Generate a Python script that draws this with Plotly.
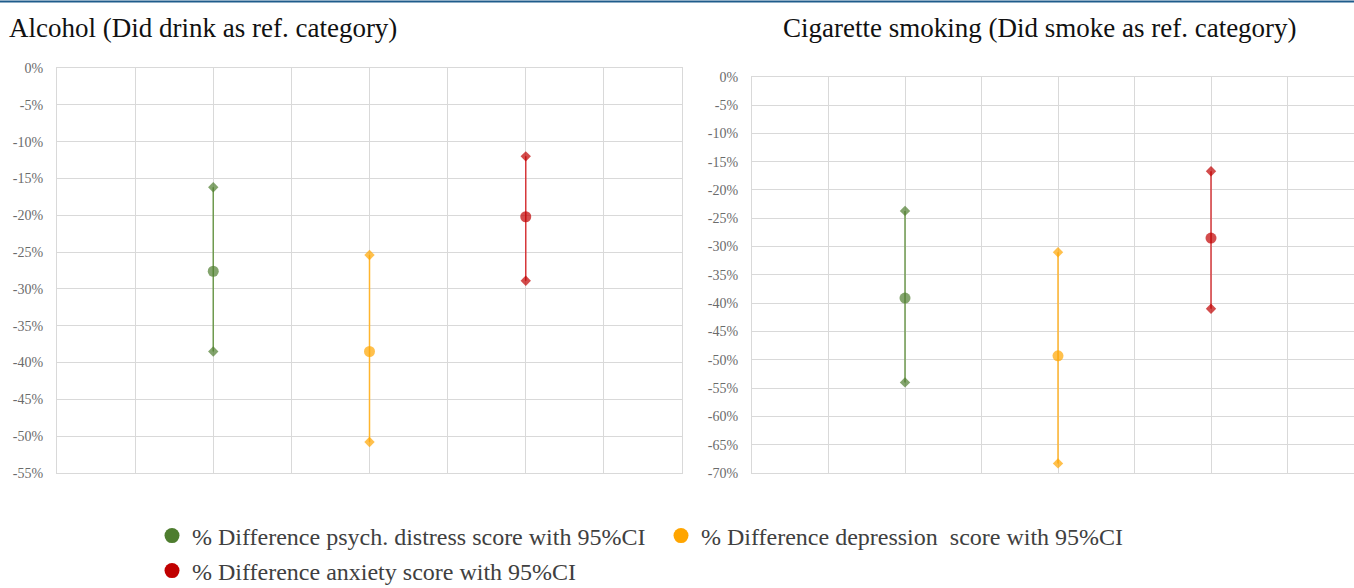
import plotly.graph_objects as go

W, H = 1354, 600  # page shows the top 588 px; extra room keeps the last legend row unclipped

# ---------------- data ----------------
measures = ["psych. distress", "depression", "anxiety"]
legend_names = [
    "% Difference psych. distress score with 95%CI",
    "% Difference depression  score with 95%CI",
    "% Difference anxiety score with 95%CI",
]
x_slot = [2, 4, 6]  # position of each measure on the x axis (0..8 grid)

alc_point = [-27.6, -38.5, -20.2]
alc_upper = [-16.2, -25.4, -12.0]
alc_lower = [-38.5, -50.8, -28.9]

cig_point = [-39.1, -49.3, -28.5]
cig_upper = [-23.7, -31.0, -16.7]
cig_lower = [-54.0, -68.3, -41.0]

alc_ticks = list(range(-55, 1, 5))
cig_ticks = list(range(-70, 1, 5))

colors = ["#4E7D2F", "#FFA500", "#C00000"]
line_colors = ["#6f9a4f", "#FFB52E", "#D6383B"]

title_left = "Alcohol (Did drink as ref. category)"
title_right = "Cigarette smoking (Did smoke as ref. category)"

SERIF = "Times New Roman, Liberation Serif, serif"

fig = go.Figure()


def add_panel(point, upper, lower, xa, ya):
    for i in range(len(measures)):
        fig.add_trace(go.Scatter(
            x=[x_slot[i]] * 3,
            y=[upper[i], point[i], lower[i]],
            mode="lines+markers",
            line=dict(color=line_colors[i], width=1.5),
            marker=dict(color=colors[i], symbol=["diamond", "circle", "diamond"],
                        size=[8, 11, 8], line=dict(width=0)),
            showlegend=False, hoverinfo="y",
            xaxis=xa, yaxis=ya,
        ))


add_panel(alc_point, alc_upper, alc_lower, "x", "y")
add_panel(cig_point, cig_upper, cig_lower, "x2", "y2")

# legend-only traces
for i in range(3):
    fig.add_trace(go.Scatter(
        x=[None], y=[None], mode="markers",
        marker=dict(color=colors[i], symbol="circle", size=15),
        name=legend_names[i], showlegend=True,
        legend="legend" if i < 2 else "legend2",
    ))

grid = "#d9d9d9"
tickfont = dict(family=SERIF, size=14, color="#6b6b6b")

xcommon = dict(showgrid=True, gridcolor=grid, gridwidth=1, dtick=1, tick0=0,
               showticklabels=False, zeroline=False, ticks="",
               showline=True, linecolor=grid, linewidth=1, mirror=True)
ycommon = dict(showgrid=True, gridcolor=grid, gridwidth=1,
               tickfont=tickfont, zeroline=False, ticks="",
               showline=True, linecolor=grid, linewidth=1, mirror=True,
               ticklabelstandoff=10)

legend_font = dict(family=SERIF, size=24, color="#404040")

fig.update_layout(
    width=W, height=H,
    margin=dict(l=0, r=0, t=0, b=0, autoexpand=False),
    paper_bgcolor="white", plot_bgcolor="white",
    xaxis=dict(domain=[57 / W, 682 / W], range=[0, 8], **xcommon),
    yaxis=dict(domain=[1 - 473 / H, 1 - 68 / H], range=[-55, 0],
               tickvals=alc_ticks, ticktext=[f"{v}%" for v in alc_ticks], **ycommon),
    xaxis2=dict(domain=[752 / W, 1.0], range=[0, (W - 752) / 76.5], anchor="y2", **xcommon),
    yaxis2=dict(domain=[1 - 473 / H, 1 - 76.7 / H], range=[-70, 0], anchor="x2",
                tickvals=cig_ticks, ticktext=[f"{v}%" for v in cig_ticks], **ycommon),
    legend=dict(orientation="h", x=152 / W, xanchor="left", y=1 - 536 / H, yanchor="middle",
                font=legend_font, entrywidth=464, entrywidthmode="pixels",
                itemsizing="trace", bgcolor="rgba(0,0,0,0)"),
    legend2=dict(orientation="h", x=152 / W, xanchor="left", y=1 - 571 / H, yanchor="middle",
                 font=legend_font, itemsizing="trace", bgcolor="rgba(0,0,0,0)"),
    shapes=[dict(type="line", xref="paper", yref="paper", x0=0, x1=1,
                 y0=1 - 1.5 / H, y1=1 - 1.5 / H, line=dict(color="#1F5C8B", width=2))],
    annotations=[
        dict(text=title_left, xref="paper", yref="paper", x=7 / W, y=1 - 28 / H,
             xanchor="left", yanchor="middle", showarrow=False,
             font=dict(family=SERIF, size=27, color="#111111")),
        dict(text=title_right, xref="paper", yref="paper", x=781 / W, y=1 - 28 / H,
             xanchor="left", yanchor="middle", showarrow=False,
             font=dict(family=SERIF, size=27, color="#111111")),
    ],
)

fig.write_html(
    "out.html", config={"displayModeBar": False},
    post_script=("document.body.style.margin='0';document.body.style.padding='0';"
                 "document.body.style.overflow='hidden';"
                 "document.documentElement.style.overflow='hidden';"),
)
